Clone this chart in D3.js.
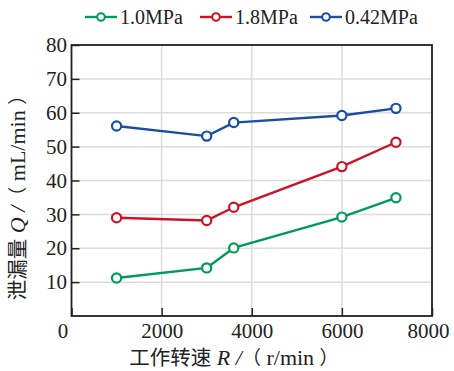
<!DOCTYPE html>
<html>
<head>
<meta charset="utf-8">
<script src="https://cdn.jsdelivr.net/npm/d3@7"></script>
<style>
  body { margin: 0; background: #fff; }
</style>
</head>
<body>
<div id="chart"></div>
<script>
// rotating speed (r/min)
var speeds = [1000, 3000, 3600, 6000, 7200];
var seriesNames = ["1.0MPa", "1.8MPa", "0.42MPa"];
var leak10 = [11.2, 14.2, 20.1, 29.2, 34.9];
var leak18 = [29.0, 28.2, 32.1, 44.1, 51.3];
var leak042 = [56.1, 53.1, 57.1, 59.2, 61.3];
var colors = ["#009a5b", "#cc1426", "#1a4ea0"];
var xTicks = [0, 2000, 4000, 6000, 8000];
var yTicks = [10, 20, 30, 40, 50, 60, 70, 80];

var serif = "Liberation Serif";
var cjk = "Noto Sans CJK SC";

var width = 454, height = 371;
var margin = {left: 71.5, right: 22, top: 45, bottom: 55};

var svg = d3.select("#chart").append("svg")
    .attr("width", width)
    .attr("height", height);

var x = d3.scaleLinear().domain([0, 8000]).range([margin.left, width - margin.right]);
var y = d3.scaleLinear().domain([0, 80]).range([height - margin.bottom, margin.top]);

// grid
svg.append("g").selectAll("line").data(xTicks.slice(1, -1)).enter().append("line")
    .attr("x1", function(d) { return x(d); }).attr("x2", function(d) { return x(d); })
    .attr("y1", y(0)).attr("y2", y(80))
    .attr("stroke", "#dcdcdc").attr("stroke-width", 1.5);
svg.append("g").selectAll("line").data(yTicks.slice(0, -1)).enter().append("line")
    .attr("y1", function(d) { return y(d); }).attr("y2", function(d) { return y(d); })
    .attr("x1", x(0)).attr("x2", x(8000))
    .attr("stroke", "#dcdcdc").attr("stroke-width", 1.5);

// axes, ticks inward
var xAxis = svg.append("g")
    .attr("transform", "translate(0," + y(0) + ")")
    .call(d3.axisBottom(x).tickValues(xTicks).tickFormat(d3.format("d")).tickSize(-8).tickPadding(7).tickSizeOuter(0));
var yAxis = svg.append("g")
    .attr("transform", "translate(" + x(0) + ",0)")
    .call(d3.axisLeft(y).tickValues(yTicks).tickFormat(d3.format("d")).tickSize(-8).tickPadding(4.5).tickSizeOuter(0));
[xAxis, yAxis].forEach(function(a) {
  a.select(".domain").remove();
  a.selectAll(".tick line").attr("stroke", "#222").attr("stroke-width", 1.5);
  a.selectAll(".tick text")
      .style("font-family", serif).style("font-size", "21px").attr("fill", "#222");
});
xAxis.selectAll(".tick text").attr("dx", function(d) { return d === 0 ? -9 : (d === 8000 ? -4 : 0); });

// frame
svg.append("rect")
    .attr("x", x(0)).attr("y", y(80))
    .attr("width", x(8000) - x(0)).attr("height", y(0) - y(80))
    .attr("fill", "none").attr("stroke", "#222").attr("stroke-width", 1.8);

// series
var allSeries = [leak10, leak18, leak042];
var line = d3.line()
    .x(function(d, i) { return x(speeds[i]); })
    .y(function(d) { return y(d); });

allSeries.forEach(function(vals, k) {
  var g = svg.append("g");
  g.append("path").datum(vals)
      .attr("d", line)
      .attr("fill", "none").attr("stroke", colors[k]).attr("stroke-width", 2.4);
  g.selectAll("circle").data(vals).enter().append("circle")
      .attr("cx", function(d, i) { return x(speeds[i]); })
      .attr("cy", function(d) { return y(d); })
      .attr("r", 4.6)
      .attr("fill", "#fff").attr("stroke", colors[k]).attr("stroke-width", 2.2);
});

// legend
var legendX = [85, 200, 310];
seriesNames.forEach(function(name, k) {
  var lg = svg.append("g").attr("transform", "translate(" + legendX[k] + ",17)");
  lg.append("line").attr("x1", 0).attr("x2", 32).attr("y1", 0).attr("y2", 0)
      .attr("stroke", colors[k]).attr("stroke-width", 2.4);
  lg.append("circle").attr("cx", 16).attr("cy", 0).attr("r", 3.8)
      .attr("fill", "#fff").attr("stroke", colors[k]).attr("stroke-width", 2);
  lg.append("text").attr("x", 35).attr("y", 7)
      .style("font-family", serif).style("font-size", "20px").attr("fill", "#222").text(name);
});

// axis titles
function title(sel, zh, sym, unit) {
  sel.append("tspan").style("font-family", cjk).style("font-size", "20.5px").text(zh);
  sel.append("tspan").style("font-family", serif).style("font-size", "22px").style("font-style", "italic").text(" " + sym + " /");
  sel.append("tspan").style("font-family", cjk).style("font-size", "19px").text("（");
  sel.append("tspan").style("font-family", serif).style("font-size", "22px").text(" " + unit + " ");
  sel.append("tspan").style("font-family", cjk).style("font-size", "19px").text("）");
}
var xt = svg.append("text")
    .attr("x", 234).attr("y", 365)
    .attr("text-anchor", "middle").attr("fill", "#222");
title(xt, "工作转速", "R", "r/min");

var yt = svg.append("text")
    .attr("transform", "translate(25,193) rotate(-90)")
    .attr("text-anchor", "middle").attr("fill", "#222");
title(yt, "泄漏量", "Q", "mL/min");
</script>
</body>
</html>
